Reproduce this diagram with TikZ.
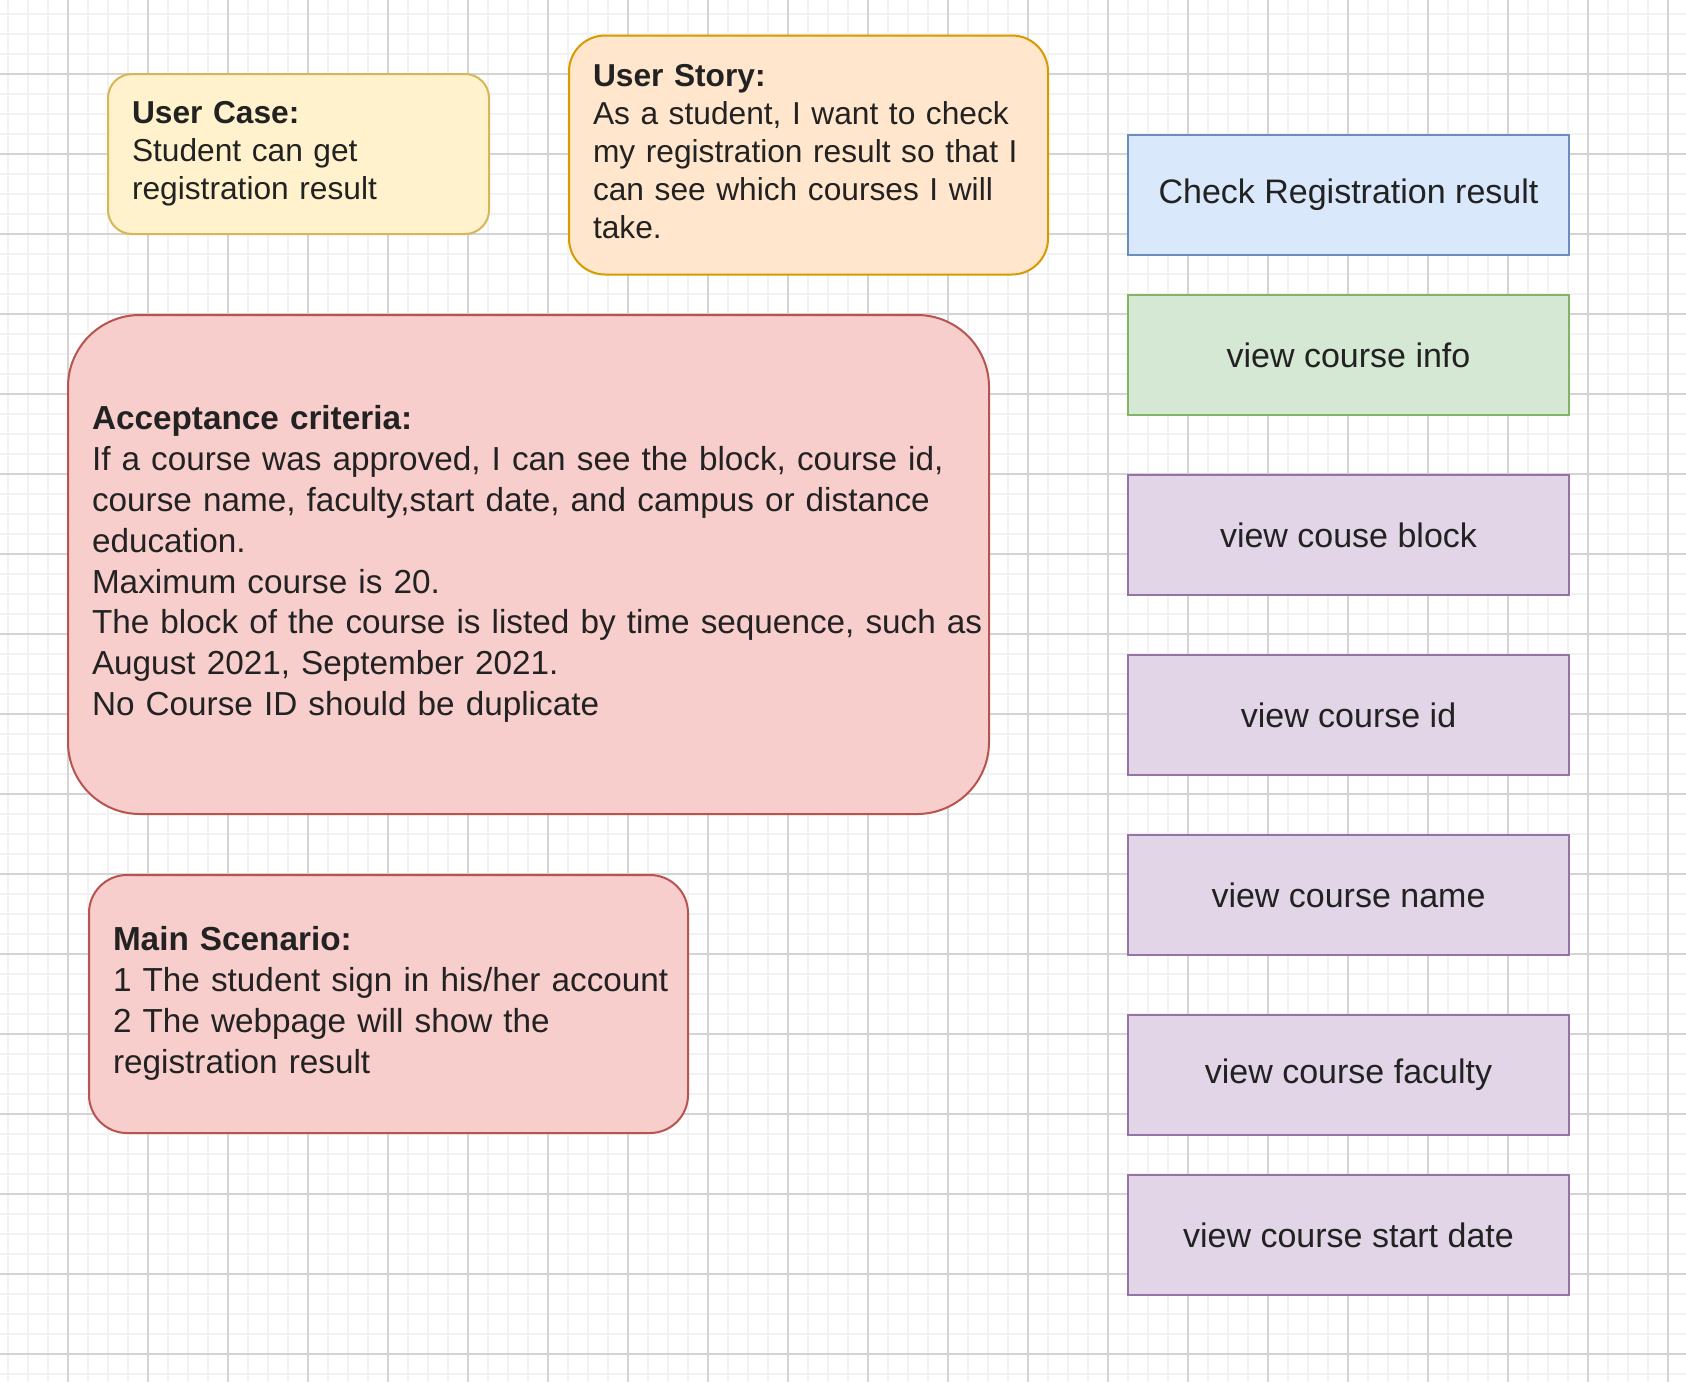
\documentclass[tikz,border=0pt]{standalone}
\usepackage{fontspec}
\setmainfont{Liberation Sans}
\usepackage{tikz}

\definecolor{txtgray}{HTML}{222222}
\definecolor{ylwfill}{HTML}{FFF2CC}
\definecolor{ylwline}{HTML}{D6B656}
\definecolor{orgfill}{HTML}{FFE6CC}
\definecolor{orgline}{HTML}{D79B00}
\definecolor{redfill}{HTML}{F8CECC}
\definecolor{redline}{HTML}{B85450}
\definecolor{bluefill}{HTML}{DAE8FC}
\definecolor{blueline}{HTML}{6C8EBF}
\definecolor{grnfill}{HTML}{D5E8D4}
\definecolor{grnline}{HTML}{82B366}
\definecolor{prpfill}{HTML}{E1D5E7}
\definecolor{prpline}{HTML}{9673A6}

\begin{document}
\begin{tikzpicture}[x=1pt, y=-1pt,
    gridminor/.style={line width=1.5pt, black!5},
    gridmajor/.style={line width=1.2pt, black!17},
    card/.style={draw, line width=2pt, rounded corners=#1, inner xsep=24pt, inner ysep=0pt,
        align=left, text=txtgray},
    smalltext/.style={font=\fontsize{31.7}{38}\selectfont},
    bigtext/.style={font=\fontsize{33.3}{40.8}\selectfont},
    task/.style={draw, line width=2pt, minimum width=441pt, minimum height=120pt,
        text=txtgray, font=\fontsize{34}{40.8}\selectfont}]
    \useasboundingbox (0,0) rectangle (1686,1382);

    % Draw the grid
    \fill[white] (0,0) rectangle (1686,1382);
    \foreach \gx in {8,28,...,1686} \draw[gridminor] (\gx,0) -- (\gx,1382);
    \foreach \gy in {14,34,...,1382} \draw[gridminor] (0,\gy) -- (1686,\gy);
    \foreach \gx in {68,148,...,1686} \draw[gridmajor] (\gx,0) -- (\gx,1382);
    \foreach \gy in {74,154,...,1382} \draw[gridmajor] (0,\gy) -- (1686,\gy);

    % Left side cards
    \node[card=24pt, smalltext, fill=ylwfill, draw=ylwline, minimum width=381pt, minimum height=160pt,
        text width=333pt] (usercase) at (298.5,154) {%
        \begin{tabular}{@{}l@{}}
        \textbf{User Case:}\\
        Student can get\\
        registration result
        \end{tabular}};
    \node[card=36pt, smalltext, fill=orgfill, draw=orgline, minimum width=479pt, minimum height=239pt,
        text width=431pt] (userstory) at (808.5,155) {%
        \begin{tabular}{@{}l@{}}
        \textbf{User Story:}\\
        As a student, I want to check\\
        my registration result so that I\\
        can see which courses I will\\
        take.
        \end{tabular}};
    \node[card=72pt, bigtext, fill=redfill, draw=redline, minimum width=921pt, minimum height=499pt,
        text width=873pt] (criteria) at (528.5,564.5) {%
        \begin{tabular}{@{}l@{}}
        \textbf{Acceptance criteria:}\\
        If a course was approved, I can see the block, course id,\\
        course name, faculty,start date, and campus or distance\\
        education.\\
        Maximum course is 20.\\
        The block of the course is listed by time sequence, such as\\
        August 2021, September 2021.\\
        No Course ID should be duplicate
        \end{tabular}};
    \node[card=38pt, bigtext, fill=redfill, draw=redline, minimum width=599pt, minimum height=258pt,
        text width=551pt] (scenario) at (388.5,1004) {%
        \begin{tabular}{@{}l@{}}
        \textbf{Main Scenario:}\\
        1 The student sign in his/her account\\
        2 The webpage will show the\\
        registration result
        \end{tabular}};

    % Right column of tasks
    \node[task, fill=bluefill, draw=blueline] (check) at (1348.5,195) {Check Registration result};
    \node[task, fill=grnfill, draw=grnline] (info) at (1348.5,355) {view course info};
    \node[task, fill=prpfill, draw=prpline] (block) at (1348.5,535) {view couse block};
    \node[task, fill=prpfill, draw=prpline] (cid) at (1348.5,715) {view course id};
    \node[task, fill=prpfill, draw=prpline] (cname) at (1348.5,895) {view course name};
    \node[task, fill=prpfill, draw=prpline] (faculty) at (1348.5,1075) {view course faculty};
    \node[task, fill=prpfill, draw=prpline] (startdate) at (1348.5,1235) {view course start date};
\end{tikzpicture}
\end{document}
